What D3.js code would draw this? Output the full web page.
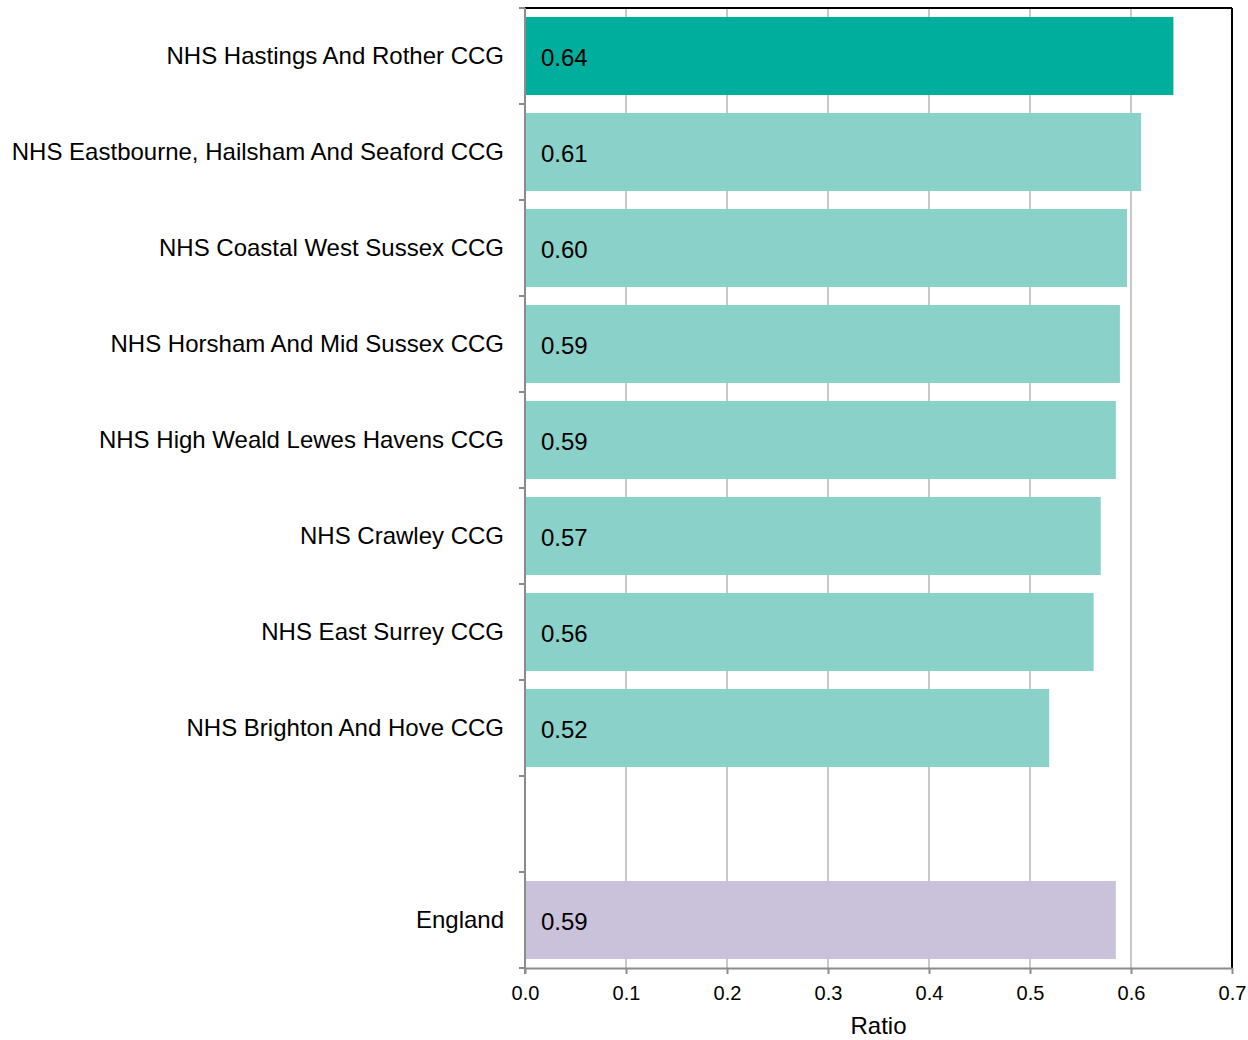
<!DOCTYPE html>
<html>
<head>
<meta charset="utf-8">
<script src="https://cdn.jsdelivr.net/npm/d3@7"></script>
<style>
  body { margin: 0; background: #fff; }
  svg { font-family: "Liberation Sans", Arial, sans-serif; }
</style>
</head>
<body>
<svg id="chart" width="1248" height="1040"></svg>
<script>
const categories = [
  "NHS Hastings And Rother CCG",
  "NHS Eastbourne, Hailsham And Seaford CCG",
  "NHS Coastal West Sussex CCG",
  "NHS Horsham And Mid Sussex CCG",
  "NHS High Weald Lewes Havens CCG",
  "NHS Crawley CCG",
  "NHS East Surrey CCG",
  "NHS Brighton And Hove CCG",
  "",
  "England"
];
const values = [0.642, 0.610, 0.596, 0.589, 0.585, 0.570, 0.563, 0.519, null, 0.585];
const valueLabels = ["0.64", "0.61", "0.60", "0.59", "0.59", "0.57", "0.56", "0.52", "", "0.59"];
const barTypes = ["highlight", "normal", "normal", "normal", "normal", "normal", "normal", "normal", "none", "england"];
const xTicks = [0, 0.1, 0.2, 0.3, 0.4, 0.5, 0.6, 0.7];
const xAxisTitle = "Ratio";

const colors = { highlight: "#00ae9e", normal: "#8ad1c9", england: "#cac1da" };

(function () {
const svg = d3.select("#chart");
const pLeft = 525, pRight = 1232, pTop = 8, pBottom = 968;

const x = d3.scaleLinear().domain([0, 0.7]).range([pLeft, pRight]);
const keys = categories.map((c, i) => i);
const y = d3.scaleBand().domain(keys).range([pTop, pBottom]).paddingInner(0.1875).paddingOuter(0.09375);
const yOuter = d3.scaleBand().domain(keys).range([pTop, pBottom]);

// gridlines
svg.append("g").selectAll("line").data(xTicks.slice(1, -1)).join("line")
  .attr("x1", d => x(d)).attr("x2", d => x(d))
  .attr("y1", pTop).attr("y2", pBottom)
  .attr("stroke", "#c8c8c8").attr("stroke-width", 2);

// bars
const data = categories.map((c, i) => ({ i, c, v: values[i], t: barTypes[i], l: valueLabels[i] }));
svg.append("g").selectAll("rect").data(data.filter(d => d.v != null)).join("rect")
  .attr("x", x(0))
  .attr("y", d => y(d.i))
  .attr("width", d => x(d.v) - x(0))
  .attr("height", y.bandwidth())
  .attr("fill", d => colors[d.t]);

// value labels
svg.append("g").selectAll("text").data(data.filter(d => d.v != null)).join("text")
  .attr("x", x(0) + 16)
  .attr("y", d => y(d.i) + y.bandwidth() / 2 + 1)
  .attr("dy", "0.36em")
  .attr("font-size", 24)
  .attr("fill", "#000")
  .text(d => d.l);

// category labels
svg.append("g").selectAll("text").data(data).join("text")
  .attr("x", 504)
  .attr("y", d => y(d.i) + y.bandwidth() / 2 - 1)
  .attr("dy", "0.36em")
  .attr("text-anchor", "end")
  .attr("font-size", 24)
  .attr("fill", "#000")
  .text(d => d.c);

// frame top and right
svg.append("line").attr("x1", pLeft).attr("x2", pRight).attr("y1", pTop).attr("y2", pTop)
  .attr("stroke", "#000").attr("stroke-width", 2);
svg.append("line").attr("x1", pRight).attr("x2", pRight).attr("y1", pTop).attr("y2", pBottom)
  .attr("stroke", "#000").attr("stroke-width", 2);

// left axis with ticks at band boundaries
const bounds = keys.map(k => yOuter(k)).concat([pBottom]);
svg.append("line").attr("x1", pLeft).attr("x2", pLeft).attr("y1", pTop).attr("y2", pBottom + 6)
  .attr("stroke", "#8c8c8c").attr("stroke-width", 2);
svg.append("g").selectAll("line").data(bounds).join("line")
  .attr("x1", pLeft - 6).attr("x2", pLeft).attr("y1", d => d).attr("y2", d => d)
  .attr("stroke", "#8c8c8c").attr("stroke-width", 2);

// bottom axis
const xAxis = d3.axisBottom(x).tickValues(xTicks).tickFormat(d3.format(".1f")).tickSize(6).tickSizeOuter(0);
const gx = svg.append("g").attr("transform", `translate(0,${pBottom})`).call(xAxis);
gx.select(".domain").attr("stroke", "#8c8c8c").attr("stroke-width", 2);
gx.selectAll(".tick line").attr("stroke", "#8c8c8c").attr("stroke-width", 2);
gx.selectAll(".tick text").attr("font-size", 20).attr("fill", "#000").attr("dy", "1.15em")
  .attr("font-family", "Liberation Sans, Arial, sans-serif");

svg.append("text").attr("x", (pLeft + pRight) / 2).attr("y", 1034)
  .attr("text-anchor", "middle").attr("font-size", 24).attr("fill", "#000").text(xAxisTitle);
})();
</script>
</body>
</html>
